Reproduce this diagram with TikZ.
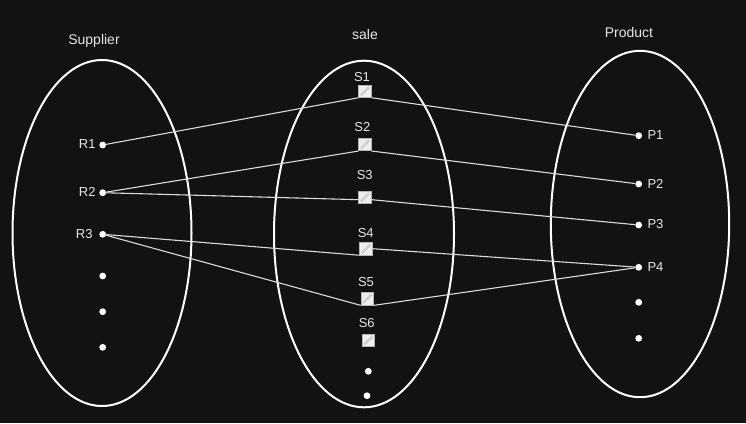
\documentclass[tikz,border=0pt]{standalone}
\usepackage{fontspec}
\setmainfont{Liberation Sans}
\usetikzlibrary{calc}
\definecolor{bg}{HTML}{121212}
\definecolor{fg}{HTML}{E6E6E6}
\definecolor{ln}{HTML}{DADADA}
\definecolor{sqfill}{HTML}{EEEEEE}
\definecolor{sqline}{HTML}{B4B4B4}
\begin{document}
\begin{tikzpicture}[x=1pt,y=-1pt,
  setshape/.style={draw=white, line width=2pt},
  dot/.style={circle, fill=white, inner sep=0pt, minimum size=6.8pt},
  sq/.style={draw=sqline, fill=sqfill, line width=0.6pt, minimum size=12.5pt, inner sep=0pt,
    path picture={
      \draw[sqline, line width=0.5pt]
        ([shift={(2.5pt,1.5pt)}]path picture bounding box.south west) --
        ([shift={(-1.5pt,-2.5pt)}]path picture bounding box.north east);
      \draw[sqline, line width=0.5pt]
        ([shift={(1.5pt,2.5pt)}]path picture bounding box.south west) --
        ([shift={(-2.5pt,-1.5pt)}]path picture bounding box.north east);
    }},
  lbl/.style={text=fg, font=\fontsize{13}{15}\selectfont, inner sep=0pt},
  ttl/.style={text=fg, font=\fontsize{14}{16}\selectfont, inner sep=0pt, anchor=base},
  conn/.style={draw=ln, line width=1.1pt}]
\fill[bg] (0,0) rectangle (746,423);
\useasboundingbox (0,0) rectangle (746,423);

% sets
\draw[setshape] (102,233) ellipse [x radius=89.5pt, y radius=173pt];
\draw[setshape] (364,234) ellipse [x radius=90pt, y radius=173.3pt];
\draw[setshape] (640,224) ellipse [x radius=89.2pt, y radius=173.2pt];

% titles
\node[ttl] (tS) at (94,44) {Supplier};
\node[ttl] (tM) at (365,39) {sale};
\node[ttl] (tP) at (629,37) {Product};

% suppliers
\node[dot] (R1) at (102.7,145) {};
\node[dot] (R2) at (102.7,192.7) {};
\node[dot] (R3) at (102.7,234.3) {};
\node[dot] (Ra) at (102.7,276) {};
\node[dot] (Rb) at (102.7,311.7) {};
\node[dot] (Rc) at (102.7,347.3) {};
\node[lbl, anchor=east] (lR1) at (95.7,144.5) {R1};
\node[lbl, anchor=east] (lR2) at (95.7,191.7) {R2};
\node[lbl, anchor=east] (lR3) at (92.7,233.8) {R3};

% sales
\node[sq] (S1) at (365,91.2) {};
\node[sq] (S2) at (365,144.5) {};
\node[sq] (S3) at (365,197.3) {};
\node[sq] (S4) at (366,248.7) {};
\node[sq] (S5) at (367.2,298.8) {};
\node[sq] (S6) at (368.3,340.5) {};
\node[dot] (Sa) at (368.3,371.3) {};
\node[dot] (Sb) at (367,395.7) {};
\node[lbl] (lS1) at (362,77.3) {S1};
\node[lbl] (lS2) at (362.3,126.7) {S2};
\node[lbl] (lS3) at (364.7,175) {S3};
\node[lbl] (lS4) at (365.7,233.3) {S4};
\node[lbl] (lS5) at (366,282.3) {S5};
\node[lbl] (lS6) at (366.7,322.7) {S6};

% products
\node[dot] (P1) at (638.7,135.7) {};
\node[dot] (P2) at (638.7,184) {};
\node[dot] (P3) at (638.7,225) {};
\node[dot] (P4) at (638.7,267.3) {};
\node[dot] (Pa) at (638.7,302.3) {};
\node[dot] (Pb) at (638.7,338.3) {};
\node[lbl, anchor=west] (lP1) at (647.3,135.2) {P1};
\node[lbl, anchor=west] (lP2) at (647.3,183.5) {P2};
\node[lbl, anchor=west] (lP3) at (647.3,224.5) {P3};
\node[lbl, anchor=west] (lP4) at (647.3,266.8) {P4};

% connectors
\draw[conn] (R1) -- (S1.south west);
\draw[conn] (S1.south east) -- (P1);
\draw[conn] (R2) -- (S2.south west);
\draw[conn] (S2.south east) -- (P2);
\draw[conn] (R2) -- (S3.200);
\draw[conn] (S3.340) -- (P3);
\draw[conn] (R3) -- (S4.south west);
\draw[conn] (S4.east) -- (P4);
\draw[conn] (R3) -- (S5.south west);
\draw[conn] (S5.south east) -- (P4);
\end{tikzpicture}
\end{document}
